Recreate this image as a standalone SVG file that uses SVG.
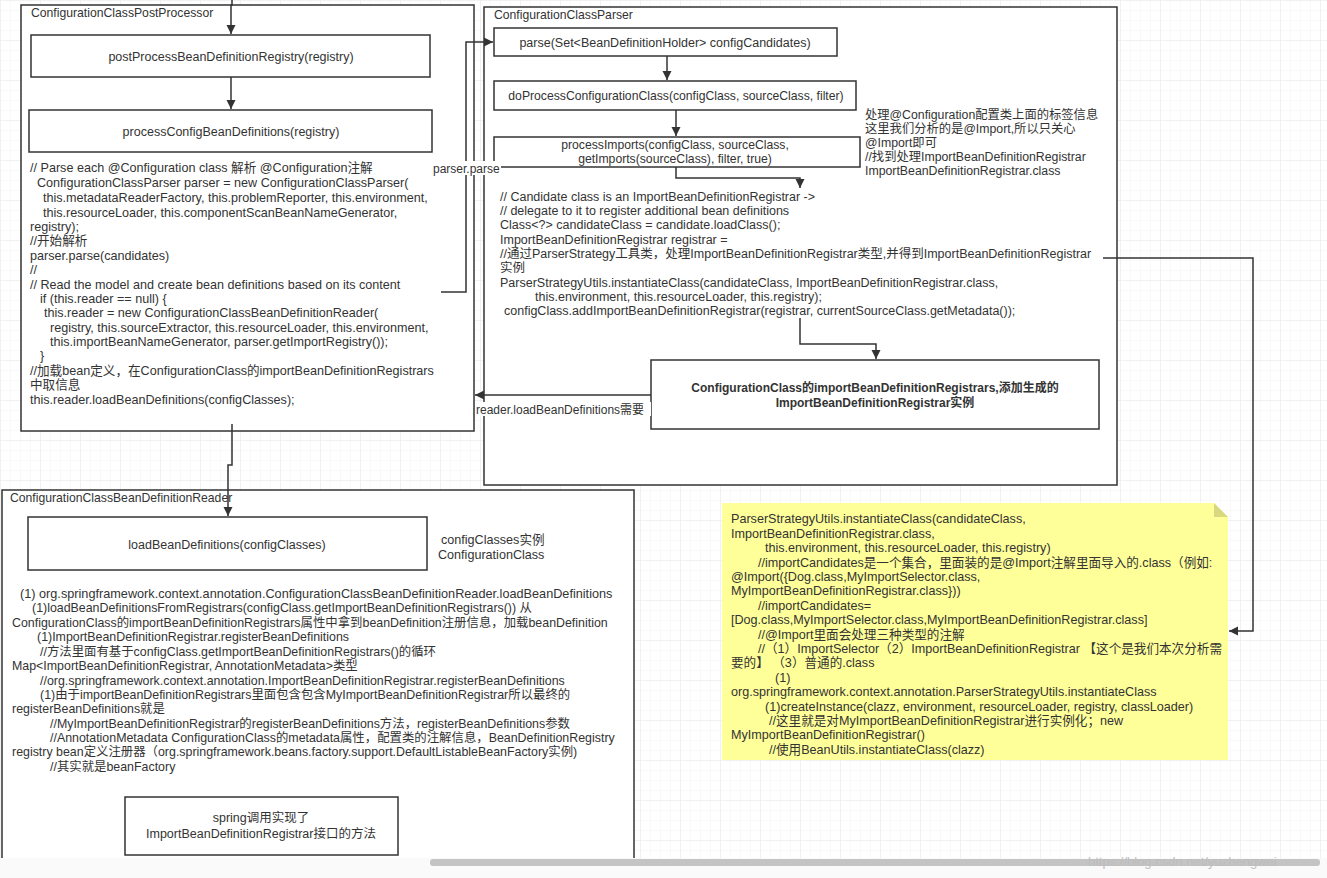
<svg xmlns="http://www.w3.org/2000/svg" width="1327" height="878" viewBox="0 0 1327 878">
<defs>
<pattern id="grid" width="10" height="10" patternUnits="userSpaceOnUse">
<path d="M10 0H0V10" fill="none" stroke="#f3f3f3" stroke-width="1"/>
</pattern>
<pattern id="grid2" width="40" height="40" patternUnits="userSpaceOnUse">
<path d="M40 0H0V40" fill="none" stroke="#e9e9e9" stroke-width="1"/>
</pattern>
<marker id="arr" markerWidth="10" markerHeight="10" refX="9" refY="5" orient="auto" markerUnits="userSpaceOnUse">
<path d="M0,0.5 L9,5 L0,9.5 Z" fill="#333"/>
</marker>
</defs>
<style>
text{font-family:"Liberation Sans","Noto Sans CJK SC",sans-serif;font-size:12.6px;fill:#333}
.t{font-size:12.2px}
.c{text-anchor:middle;font-size:12.5px}
.c2{text-anchor:middle;font-size:12.2px}
.b{font-weight:bold;text-anchor:middle;font-size:12px}
.frame{fill:#fff;stroke:#333;stroke-width:1.5}
.box{fill:#fff;stroke:#333;stroke-width:1.5}
.line{fill:none;stroke:#333;stroke-width:1.5}
.lab{font-size:12px}
.bt{font-size:12.4px}
.pc{font-size:12.5px}
.an{font-size:12.3px}
</style>
<rect width="1327" height="878" fill="#fff"/>
<rect width="1327" height="878" fill="url(#grid)"/>
<rect width="1327" height="878" fill="url(#grid2)"/>

<g id="ConfigurationClassPostProcessor">
<rect class="frame" x="21" y="5" width="453" height="426"/>
<text x="31" y="17" class="t">ConfigurationClassPostProcessor</text>
</g>
<g id="postProcessBeanDefinitionRegistry">
<rect class="box" x="31" y="35" width="399" height="42"/>
<text x="231" y="61" class="c">postProcessBeanDefinitionRegistry(registry)</text>
</g>
<g id="processConfigBeanDefinitions">
<rect class="box" x="29" y="110" width="403" height="42"/>
<text x="231" y="136" class="c">processConfigBeanDefinitions(registry)</text>
</g>
<g id="postProcessorCode">
<text x="30" y="172">// Parse each @Configuration class 解析 @Configuration注解</text>
<text x="37" y="187">ConfigurationClassParser parser = new ConfigurationClassParser(</text>
<text x="43" y="202">this.metadataReaderFactory, this.problemReporter, this.environment,</text>
<text x="43" y="217">this.resourceLoader, this.componentScanBeanNameGenerator,</text>
<text x="30" y="231">registry);</text>
<text x="30" y="245">//开始解析</text>
<text x="30" y="260">parser.parse(candidates)</text>
<text x="30" y="274">//</text>
<text x="30" y="289">// Read the model and create bean definitions based on its content</text>
<text x="40" y="303">if (this.reader == null) {</text>
<text x="44" y="317">this.reader = new ConfigurationClassBeanDefinitionReader(</text>
<text x="50" y="332">registry, this.sourceExtractor, this.resourceLoader, this.environment,</text>
<text x="50" y="346">this.importBeanNameGenerator, parser.getImportRegistry());</text>
<text x="40" y="360">}</text>
<text x="30" y="375">//加载bean定义，在ConfigurationClass的importBeanDefinitionRegistrars</text>
<text x="30" y="389">中取信息</text>
<text x="30" y="404">this.reader.loadBeanDefinitions(configClasses);</text>
</g>

<g id="ConfigurationClassParser">
<rect class="frame" x="484" y="7" width="633" height="478"/>
<text x="494" y="19" class="t">ConfigurationClassParser</text>
</g>
<g id="parse">
<rect class="box" x="494" y="28" width="343" height="28"/>
<text x="665" y="47" class="c">parse(Set&lt;BeanDefinitionHolder&gt; configCandidates)</text>
</g>
<g id="doProcessConfigurationClass">
<rect class="box" x="494" y="81" width="362" height="29"/>
<text x="676" y="100" class="c2">doProcessConfigurationClass(configClass, sourceClass, filter)</text>
</g>
<g id="processImports">
<rect class="box" x="494" y="137" width="366" height="30"/>
<text x="675" y="149" class="c2">processImports(configClass, sourceClass,</text>
<text x="675" y="163" class="c2">getImports(sourceClass), filter, true)</text>
</g>
<g id="parserCode">
<text x="500" y="201" class="pc">// Candidate class is an ImportBeanDefinitionRegistrar -&gt;</text>
<text x="500" y="215" class="pc">// delegate to it to register additional bean definitions</text>
<text x="500" y="229" class="pc">Class&lt;?&gt; candidateClass = candidate.loadClass();</text>
<text x="500" y="244" class="pc">ImportBeanDefinitionRegistrar registrar =</text>
<text x="500" y="258" class="pc">//通过ParserStrategy工具类，处理ImportBeanDefinitionRegistrar类型,并得到ImportBeanDefinitionRegistrar</text>
<text x="500" y="272" class="pc">实例</text>
<text x="500" y="287" class="pc">ParserStrategyUtils.instantiateClass(candidateClass, ImportBeanDefinitionRegistrar.class,</text>
<text x="535" y="301" class="pc">this.environment, this.resourceLoader, this.registry);</text>
<text x="504" y="315" class="pc">configClass.addImportBeanDefinitionRegistrar(registrar, currentSourceClass.getMetadata());</text>
</g>
<g id="importNote">
<text x="865" y="119" class="an">处理@Configuration配置类上面的标签信息</text>
<text x="865" y="133" class="an">这里我们分析的是@Import,所以只关心</text>
<text x="865" y="147" class="an">@Import即可</text>
<text x="865" y="161" class="an">//找到处理ImportBeanDefinitionRegistrar</text>
<text x="865" y="175" class="an">ImportBeanDefinitionRegistrar.class</text>
</g>
<g id="addRegistrar">
<rect class="box" x="651" y="360" width="448" height="69"/>
<text x="875" y="392" class="b">ConfigurationClass的importBeanDefinitionRegistrars,添加生成的</text>
<text x="875" y="407" class="b">ImportBeanDefinitionRegistrar实例</text>
</g>

<g id="ConfigurationClassBeanDefinitionReader">
<rect class="frame" x="2" y="490" width="632" height="380"/>
<text x="10" y="502" class="t">ConfigurationClassBeanDefinitionReader</text>
</g>
<g id="loadBeanDefinitions">
<rect class="box" x="28" y="517" width="399" height="53"/>
<text x="227" y="549" class="c">loadBeanDefinitions(configClasses)</text>
</g>
<g id="configClassesNote">
<text x="441" y="544">configClasses实例</text>
<text x="438" y="559">ConfigurationClass</text>
</g>
<g id="readerCode">
<text x="20" y="598" class="bt" style="font-size:12.7px">(1) org.springframework.context.annotation.ConfigurationClassBeanDefinitionReader.loadBeanDefinitions</text>
<text x="32" y="612" class="bt">(1)loadBeanDefinitionsFromRegistrars(configClass.getImportBeanDefinitionRegistrars()) 从</text>
<text x="12" y="627" class="bt">ConfigurationClass的importBeanDefinitionRegistrars属性中拿到beanDefinition注册信息，加载beanDefinition</text>
<text x="37" y="641" class="bt">(1)ImportBeanDefinitionRegistrar.registerBeanDefinitions</text>
<text x="40" y="656" class="bt">//方法里面有基于configClass.getImportBeanDefinitionRegistrars()的循环</text>
<text x="12" y="670" class="bt">Map&lt;ImportBeanDefinitionRegistrar, AnnotationMetadata&gt;类型</text>
<text x="40" y="685" class="bt">//org.springframework.context.annotation.ImportBeanDefinitionRegistrar.registerBeanDefinitions</text>
<text x="40" y="699" class="bt">(1)由于importBeanDefinitionRegistrars里面包含包含MyImportBeanDefinitionRegistrar所以最终的</text>
<text x="12" y="713" class="bt">registerBeanDefinitions就是</text>
<text x="50" y="728" class="bt">//MyImportBeanDefinitionRegistrar的registerBeanDefinitions方法，registerBeanDefinitions参数</text>
<text x="50" y="742" class="bt">//AnnotationMetadata ConfigurationClass的metadata属性，配置类的注解信息，BeanDefinitionRegistry</text>
<text x="12" y="756" class="bt">registry bean定义注册器（org.springframework.beans.factory.support.DefaultListableBeanFactory实例)</text>
<text x="50" y="771" class="bt">//其实就是beanFactory</text>
</g>
<g id="springCall">
<rect class="box" x="125" y="797" width="273" height="58"/>
<text x="261" y="822" class="c">spring调用实现了</text>
<text x="261" y="838" class="c">ImportBeanDefinitionRegistrar接口的方法</text>
</g>

<g id="yellowNote">
<path d="M722,503 H1214 L1228,517 V760 H722 Z" fill="#ffff99" stroke="none"/>
<path d="M1214,503 V517 H1228 Z" fill="#d8d880"/>
<text x="731" y="523">ParserStrategyUtils.instantiateClass(candidateClass,</text>
<text x="731" y="538">ImportBeanDefinitionRegistrar.class,</text>
<text x="765" y="552">this.environment, this.resourceLoader, this.registry)</text>
<text x="758" y="567">//importCandidates是一个集合，里面装的是@Import注解里面导入的.class（例如:</text>
<text x="731" y="581">@Import({Dog.class,MyImportSelector.class,</text>
<text x="731" y="595">MyImportBeanDefinitionRegistrar.class}))</text>
<text x="758" y="610">//importCandidates=</text>
<text x="731" y="624">[Dog.class,MyImportSelector.class,MyImportBeanDefinitionRegistrar.class]</text>
<text x="758" y="639">//@Import里面会处理三种类型的注解</text>
<text x="758" y="653">//（1）ImportSelector（2）ImportBeanDefinitionRegistrar 【这个是我们本次分析需</text>
<text x="731" y="667">要的】 （3）普通的.class</text>
<text x="775" y="682">(1)</text>
<text x="731" y="696">org.springframework.context.annotation.ParserStrategyUtils.instantiateClass</text>
<text x="765" y="711">(1)createInstance(clazz, environment, resourceLoader, registry, classLoader)</text>
<text x="769" y="725">//这里就是对MyImportBeanDefinitionRegistrar进行实例化；new</text>
<text x="731" y="739">MyImportBeanDefinitionRegistrar()</text>
<text x="769" y="754">//使用BeanUtils.instantiateClass(clazz)</text>
</g>

<g id="connectors">
<path class="line" d="M232,0 V5 H231 V34" marker-end="url(#arr)"/>
<path class="line" d="M231,77 V109" marker-end="url(#arr)"/>
<path class="line" d="M441,292 H466 V42 H493" marker-end="url(#arr)"/>
<rect x="433" y="161" width="68" height="14" fill="#fff"/>
<text x="433" y="173" class="lab">parser.parse</text>
<path class="line" d="M667,56 V80" marker-end="url(#arr)"/>
<path class="line" d="M676,110 V136" marker-end="url(#arr)"/>
<path class="line" d="M676,167 V178 H800 V188" marker-end="url(#arr)"/>
<path class="line" d="M800,318 V344 H876 V359" marker-end="url(#arr)"/>
<path class="line" d="M651,395 H475" marker-end="url(#arr)"/>
<rect x="476" y="402" width="175" height="14" fill="#fff"/>
<text x="476" y="414" class="lab">reader.loadBeanDefinitions需要</text>
<path class="line" d="M1103,258 H1253 V631 H1229" marker-end="url(#arr)"/>
<path class="line" d="M232,424 V465 H228 V516" marker-end="url(#arr)"/>
</g>

<rect x="0" y="858" width="1327" height="20" fill="#fafafa"/>
<rect x="430" y="859" width="890" height="7" rx="3" fill="#c4c4c4"/>
<text x="1088" y="866" style="fill:#bdbdbd;font-size:13px">https://blog.csdn.net/yuzhengwei</text>
</svg>
